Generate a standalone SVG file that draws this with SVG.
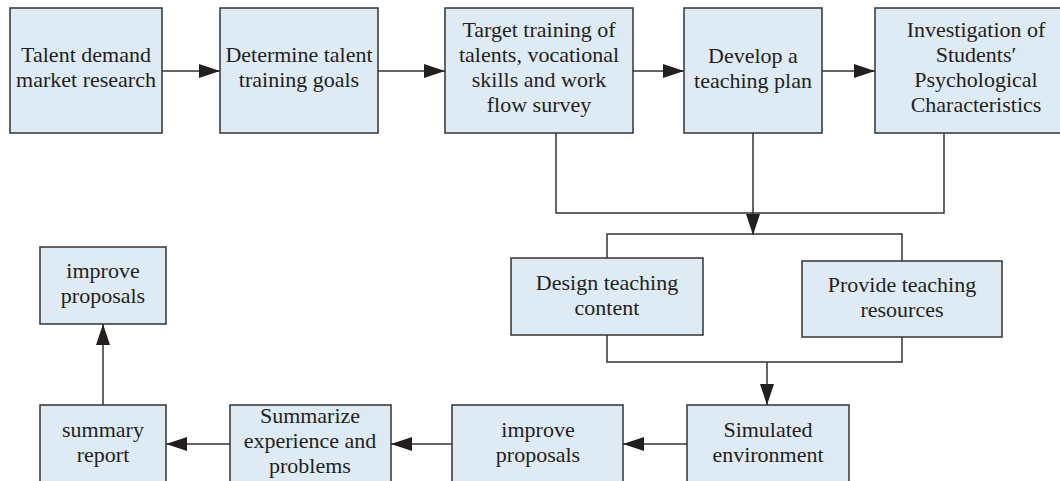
<svg xmlns="http://www.w3.org/2000/svg" width="1060" height="481" viewBox="0 0 1060 481">
<style>
.box{fill:#deeaf4;stroke:#333;stroke-width:1.5}
.t{font-family:"Liberation Serif","Times New Roman",serif;font-size:22px;fill:#231f20;text-anchor:middle}
.c{fill:none;stroke:#333;stroke-width:1.5}
.a{marker-end:url(#ah)}
</style>
<defs>
<marker id="ah" markerUnits="userSpaceOnUse" markerWidth="21" markerHeight="14" refX="21" refY="7" orient="auto" viewBox="0 0 21 14">
<path d="M0,0 L21,7 L0,14 z" fill="#231f20"/>
</marker>
</defs>
<rect width="1060" height="481" fill="#fff"/>
<g id="connectors">
<line class="c a" x1="162" y1="71" x2="220" y2="71"/>
<line class="c a" x1="378" y1="71" x2="445" y2="71"/>
<line class="c a" x1="633" y1="71" x2="684" y2="71"/>
<line class="c a" x1="822" y1="71" x2="875" y2="71"/>
<polyline class="c" points="556,133 556,213 944,213 944,133"/>
<line class="c a" x1="753" y1="133" x2="753" y2="235"/>
<polyline class="c" points="607,258 607,234 902,234 902,261"/>
<polyline class="c" points="607,335 607,362 902,362 902,337"/>
<line class="c a" x1="767" y1="362" x2="767" y2="405"/>
<line class="c a" x1="687" y1="444" x2="623" y2="444"/>
<line class="c a" x1="452" y1="444" x2="391" y2="444"/>
<line class="c a" x1="230" y1="444" x2="166" y2="444"/>
<line class="c a" x1="103" y1="405" x2="103" y2="324"/>
</g>
<g id="n1"><rect class="box" x="10" y="8" width="152" height="125"/>
<text class="t" x="86" y="62">Talent demand</text><text class="t" x="86" y="87">market research</text></g>
<g id="n2"><rect class="box" x="220" y="8" width="158" height="125"/>
<text class="t" x="299" y="62">Determine talent</text><text class="t" x="299" y="87">training goals</text></g>
<g id="n3"><rect class="box" x="445" y="8" width="188" height="125"/>
<text class="t" x="539" y="37">Target training of</text><text class="t" x="539" y="62">talents, vocational</text><text class="t" x="539" y="87">skills and work</text><text class="t" x="539" y="112">flow survey</text></g>
<g id="n4"><rect class="box" x="684" y="8" width="138" height="125"/>
<text class="t" x="753" y="63">Develop a</text><text class="t" x="753" y="88">teaching plan</text></g>
<g id="n5"><rect class="box" x="875" y="8" width="200" height="125"/>
<text class="t" x="976" y="37">Investigation of</text><text class="t" x="976" y="62">Students′</text><text class="t" x="976" y="87">Psychological</text><text class="t" x="976" y="112">Characteristics</text></g>
<g id="n6"><rect class="box" x="511" y="258" width="192" height="77"/>
<text class="t" x="607" y="290">Design teaching</text><text class="t" x="607" y="315">content</text></g>
<g id="n7"><rect class="box" x="802" y="261" width="200" height="76"/>
<text class="t" x="902" y="292">Provide teaching</text><text class="t" x="902" y="317">resources</text></g>
<g id="n8"><rect class="box" x="687" y="405" width="162" height="90"/>
<text class="t" x="768" y="437">Simulated</text><text class="t" x="768" y="462">environment</text></g>
<g id="n9"><rect class="box" x="452" y="405" width="171" height="90"/>
<text class="t" x="538" y="437">improve</text><text class="t" x="538" y="462">proposals</text></g>
<g id="n10"><rect class="box" x="230" y="405" width="161" height="90"/>
<text class="t" x="310" y="423">Summarize</text><text class="t" x="310" y="448">experience and</text><text class="t" x="310" y="473">problems</text></g>
<g id="n11"><rect class="box" x="40" y="405" width="126" height="90"/>
<text class="t" x="103" y="437">summary</text><text class="t" x="103" y="462">report</text></g>
<g id="n12"><rect class="box" x="40" y="247" width="126" height="77"/>
<text class="t" x="103" y="278">improve</text><text class="t" x="103" y="303">proposals</text></g>
</svg>
